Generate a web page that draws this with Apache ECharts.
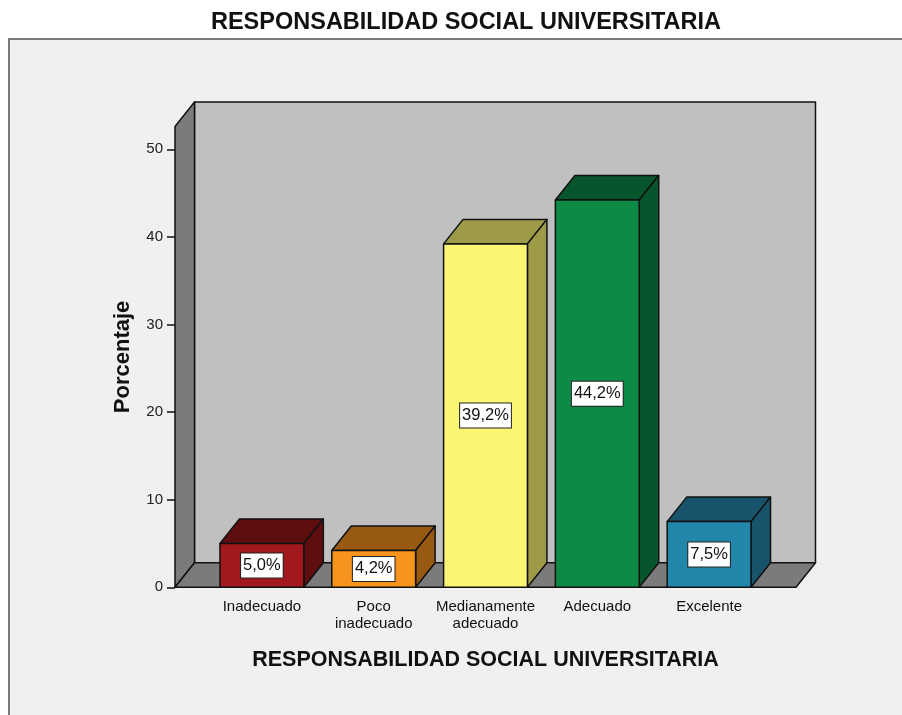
<!DOCTYPE html>
<html>
<head>
<meta charset="utf-8">
<title>Responsabilidad social universitaria</title>
<script src="https://cdn.jsdelivr.net/npm/echarts@6/dist/echarts.min.js"></script>
<style>
  html, body { margin: 0; padding: 0; background: #fff; }
  #chart { width: 902px; height: 715px; }
</style>
</head>
<body>
<div id="chart"></div>
<script>
const categories = ['Inadecuado', 'Poco\ninadecuado', 'Medianamente\nadecuado', 'Adecuado', 'Excelente']
const percentages = [5.0, 4.2, 39.2, 44.2, 7.5]
const yTicks = [0, 10, 20, 30, 40, 50]
const yMax = 52.6

// front face / top+side face for each bar
const frontColors = ['#a2181c', '#f7941e', '#fbf574', '#0e8a47', '#2387ac']
const darkColors = ['#5f0e10', '#985a13', '#9e9b48', '#07552c', '#17546b']

const DX = 19.5
const DY = -24.5
const PAD = 31
const FONT = '"Liberation Sans", Arial, sans-serif'

const chart = echarts.init(document.getElementById('chart'))

function renderWalls(params, api) {
  const cs = params.coordSys
  const L = cs.x - PAD
  const R = cs.x + cs.width + PAD
  const T = cs.y
  const B = cs.y + cs.height
  const stroke = { stroke: '#111', lineWidth: 1.5, lineJoin: 'round' }
  return {
    type: 'group',
    children: [
      {
        type: 'polygon',
        shape: { points: [[L + DX, T + DY], [R + DX, T + DY], [R + DX, B + DY], [L + DX, B + DY]] },
        style: Object.assign({ fill: '#c0c0c0' }, stroke)
      },
      {
        type: 'polygon',
        shape: { points: [[L, T], [L + DX, T + DY], [L + DX, B + DY], [L, B]] },
        style: Object.assign({ fill: '#7b7b7b' }, stroke)
      },
      {
        type: 'polygon',
        shape: { points: [[L, B], [L + DX, B + DY], [R + DX, B + DY], [R, B]] },
        style: Object.assign({ fill: '#7b7b7b' }, stroke)
      }
    ]
  }
}

function renderBar(params, api) {
  const idx = api.value(0)
  const val = api.value(1)
  const base = api.coord([idx, 0])
  const top = api.coord([idx, val])
  const bw = api.size([1, 0])[0] * 0.75
  const x0 = base[0] - bw / 2
  const x1 = base[0] + bw / 2
  const y0 = base[1]
  const y1 = top[1]
  const stroke = { stroke: '#111', lineWidth: 1.5, lineJoin: 'round' }
  const i = params.dataIndex
  return {
    type: 'group',
    children: [
      {
        type: 'polygon',
        shape: { points: [[x0, y1], [x0 + DX, y1 + DY], [x1 + DX, y1 + DY], [x1, y1]] },
        style: Object.assign({ fill: darkColors[i] }, stroke)
      },
      {
        type: 'polygon',
        shape: { points: [[x1, y1], [x1 + DX, y1 + DY], [x1 + DX, y0 + DY], [x1, y0]] },
        style: Object.assign({ fill: darkColors[i] }, stroke)
      },
      {
        type: 'rect',
        shape: { x: x0, y: y1, width: bw, height: y0 - y1 },
        style: Object.assign({ fill: frontColors[i] }, stroke)
      },
      {
        type: 'text',
        x: base[0],
        y: (y0 + y1) / 2,
        style: {
          text: val.toFixed(1).replace('.', ',') + '%',
          fill: '#111',
          font: '16.5px ' + FONT,
          align: 'center',
          verticalAlign: 'middle',
          backgroundColor: '#fff',
          borderColor: '#222',
          borderWidth: 1,
          padding: [4, 2, 3, 2]
        }
      }
    ]
  }
}

const option = {
  backgroundColor: '#fff',
  animation: false,
  textStyle: { fontFamily: FONT },
  title: {
    text: 'RESPONSABILIDAD SOCIAL UNIVERSITARIA',
    left: 461,
    textAlign: 'center',
    top: 6,
    textStyle: { fontSize: 23.5, fontWeight: 'bold', color: '#111', fontFamily: FONT }
  },
  graphic: [
    {
      type: 'rect',
      z: -10,
      shape: { x: 9, y: 39, width: 1000, height: 1000 },
      style: { fill: '#f0f0f0', stroke: '#7a7a7a', lineWidth: 2 }
    }
  ],
  grid: {
    left: 206,
    right: 137,
    top: 126.5,
    bottom: 127.7
  },
  xAxis: {
    type: 'category',
    data: categories,
    name: 'RESPONSABILIDAD SOCIAL UNIVERSITARIA',
    nameLocation: 'middle',
    nameGap: 62,
    nameTextStyle: { fontSize: 21.5, fontWeight: 'bold', color: '#111', fontFamily: FONT },
    axisLine: { show: false },
    axisTick: { alignWithLabel: true, interval: 0, length: 9, lineStyle: { color: '#111', width: 1.5 } },
    axisLabel: { interval: 0, color: '#111', fontSize: 15, margin: 11, lineHeight: 17, fontFamily: FONT }
  },
  yAxis: {
    type: 'value',
    min: 0,
    max: yMax,
    offset: PAD,
    name: 'Porcentaje',
    nameLocation: 'middle',
    nameGap: 41,
    nameTextStyle: { fontSize: 22, fontWeight: 'bold', color: '#111', fontFamily: FONT },
    splitLine: { show: false },
    axisLine: { show: false },
    axisTick: { show: true, length: 8, customValues: yTicks, lineStyle: { color: '#111', width: 1.5 } },
    axisLabel: { color: '#222', fontSize: 15, margin: 12, customValues: yTicks, fontFamily: FONT }
  },
  series: [
    {
      type: 'custom',
      z: 1,
      renderItem: renderWalls,
      data: [[0, 0]],
      silent: true
    },
    {
      type: 'custom',
      z: 2,
      renderItem: renderBar,
      encode: { x: 0, y: 1 },
      data: percentages.map((v, i) => [i, v])
    }
  ]
}

chart.setOption(option)
window.addEventListener('resize', () => chart.resize())
</script>
</body>
</html>
